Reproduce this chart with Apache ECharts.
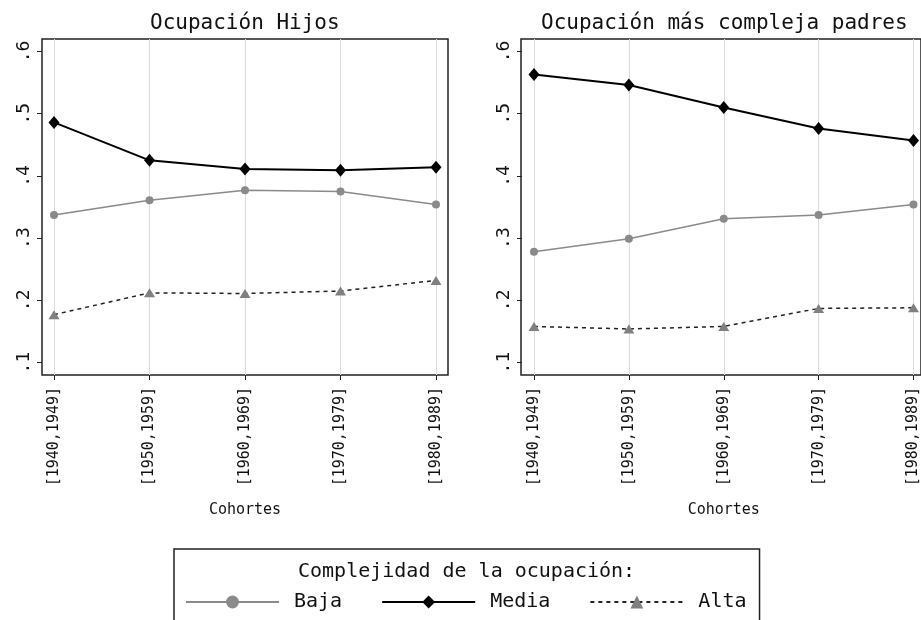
<!DOCTYPE html>
<html>
  <head>
    <meta charset="utf-8" />
    <script src="https://cdn.jsdelivr.net/npm/echarts/dist/echarts.min.js"></script>
  </head>
  <body style="margin:0">
    <div id="chart" style="width: 921px; height: 620px;"></div>
    <script>
        // Data
        var cohorts = ['[1940,1949]', '[1950,1959]', '[1960,1969]', '[1970,1979]', '[1980,1989]'];
        var hijosBaja = [0.337, 0.361, 0.377, 0.375, 0.354];
        var hijosMedia = [0.486, 0.425, 0.411, 0.409, 0.414];
        var hijosAlta = [0.177, 0.212, 0.211, 0.215, 0.232];
        var padresBaja = [0.278, 0.299, 0.331, 0.337, 0.354];
        var padresMedia = [0.563, 0.546, 0.510, 0.476, 0.457];
        var padresAlta = [0.158, 0.154, 0.158, 0.187, 0.188];
        var yTicks = [0.1, 0.2, 0.3, 0.4, 0.5, 0.6];
        var seriesNames = ['Baja', 'Media', 'Alta'];

        var mono = 'DejaVu Sans Mono';
        var chart = echarts.init(document.getElementById('chart'));

        function frameAxes(idx) {
            return {
                x: { gridIndex: idx, type: 'value', show: false },
                y: { gridIndex: idx, type: 'value', show: false }
            };
        }

        function dataX(idx) {
            return {
                gridIndex: idx,
                type: 'category',
                data: cohorts,
                boundaryGap: false,
                axisLine: { show: false },
                axisTick: { show: true, length: 5, lineStyle: { color: '#222' } },
                axisLabel: { rotate: 90, margin: 12, fontFamily: mono, fontSize: 15, color: '#111' },
                splitLine: { show: true, lineStyle: { color: '#dcdcdc', width: 1 } },
                name: 'Cohortes',
                nameLocation: 'middle',
                nameGap: 128,
                nameTextStyle: { fontFamily: mono, fontSize: 15, color: '#111' }
            };
        }

        function dataY(idx) {
            return {
                gridIndex: idx,
                type: 'value',
                min: 0.08,
                max: 0.62,
                offset: 12,
                axisLine: { show: false },
                axisTick: { show: true, length: 5, customValues: yTicks, lineStyle: { color: '#222' } },
                axisLabel: {
                    rotate: 90, margin: 9, fontFamily: mono, fontSize: 18, color: '#111',
                    customValues: yTicks,
                    formatter: function (v) { return v.toFixed(1).replace(/^0/, ''); }
                },
                splitLine: { show: false }
            };
        }

        function panelSeries(xi, baja, media, alta) {
            return [
                {
                    name: 'Baja', type: 'line', xAxisIndex: xi, yAxisIndex: xi, data: baja,
                    symbol: 'circle', symbolSize: 8,
                    itemStyle: { color: '#8a8a8a' },
                    lineStyle: { color: '#8a8a8a', width: 1.5 }
                },
                {
                    name: 'Media', type: 'line', xAxisIndex: xi, yAxisIndex: xi, data: media,
                    symbol: 'diamond', symbolSize: [11, 13],
                    itemStyle: { color: '#000' },
                    lineStyle: { color: '#000', width: 2 }
                },
                {
                    name: 'Alta', type: 'line', xAxisIndex: xi, yAxisIndex: xi, data: alta,
                    symbol: 'triangle', symbolSize: [11, 9],
                    itemStyle: { color: '#808080' },
                    lineStyle: { color: '#222', width: 1.5, type: [4, 4] }
                }
            ];
        }

        var f0 = frameAxes(0), f2 = frameAxes(2);

        var option = {
            animation: false,
            backgroundColor: '#fff',
            title: [
                { text: 'Ocupación Hijos', left: 150, top: 13, padding: 0,
                  textStyle: { fontFamily: mono, fontSize: 21, fontWeight: 'normal', color: '#111' } },
                { text: 'Ocupación más compleja padres', left: 541, top: 13, padding: 0,
                  textStyle: { fontFamily: mono, fontSize: 21, fontWeight: 'normal', color: '#111' } },
                { text: 'Complejidad de la ocupación:', left: 298, top: 562, padding: 0,
                  textStyle: { fontFamily: mono, fontSize: 20, fontWeight: 'normal', color: '#111' } }
            ],
            legend: {
                data: seriesNames,
                left: 174,
                top: 549,
                padding: [43, 13, 20, 11],
                itemGap: 39,
                itemWidth: 93,
                itemHeight: 16,
                borderColor: '#222',
                borderWidth: 1.5,
                textStyle: { fontFamily: mono, fontSize: 20, color: '#111', padding: [0, 0, 0, 10] }
            },
            grid: [
                { left: 42, top: 39, width: 406, height: 336, show: true, borderColor: '#222', borderWidth: 1.5 },
                { left: 54, top: 39, width: 382, height: 336 },
                { left: 521, top: 39, width: 406, height: 336, show: true, borderColor: '#222', borderWidth: 1.5 },
                { left: 534, top: 39, width: 381, height: 336 }
            ],
            xAxis: [f0.x, dataX(1), f2.x, dataX(3)],
            yAxis: [f0.y, dataY(1), f2.y, dataY(3)],
            series: panelSeries(1, hijosBaja, hijosMedia, hijosAlta)
                .concat(panelSeries(3, padresBaja, padresMedia, padresAlta))
        };

        chart.setOption(option);
    </script>
  </body>
</html>
